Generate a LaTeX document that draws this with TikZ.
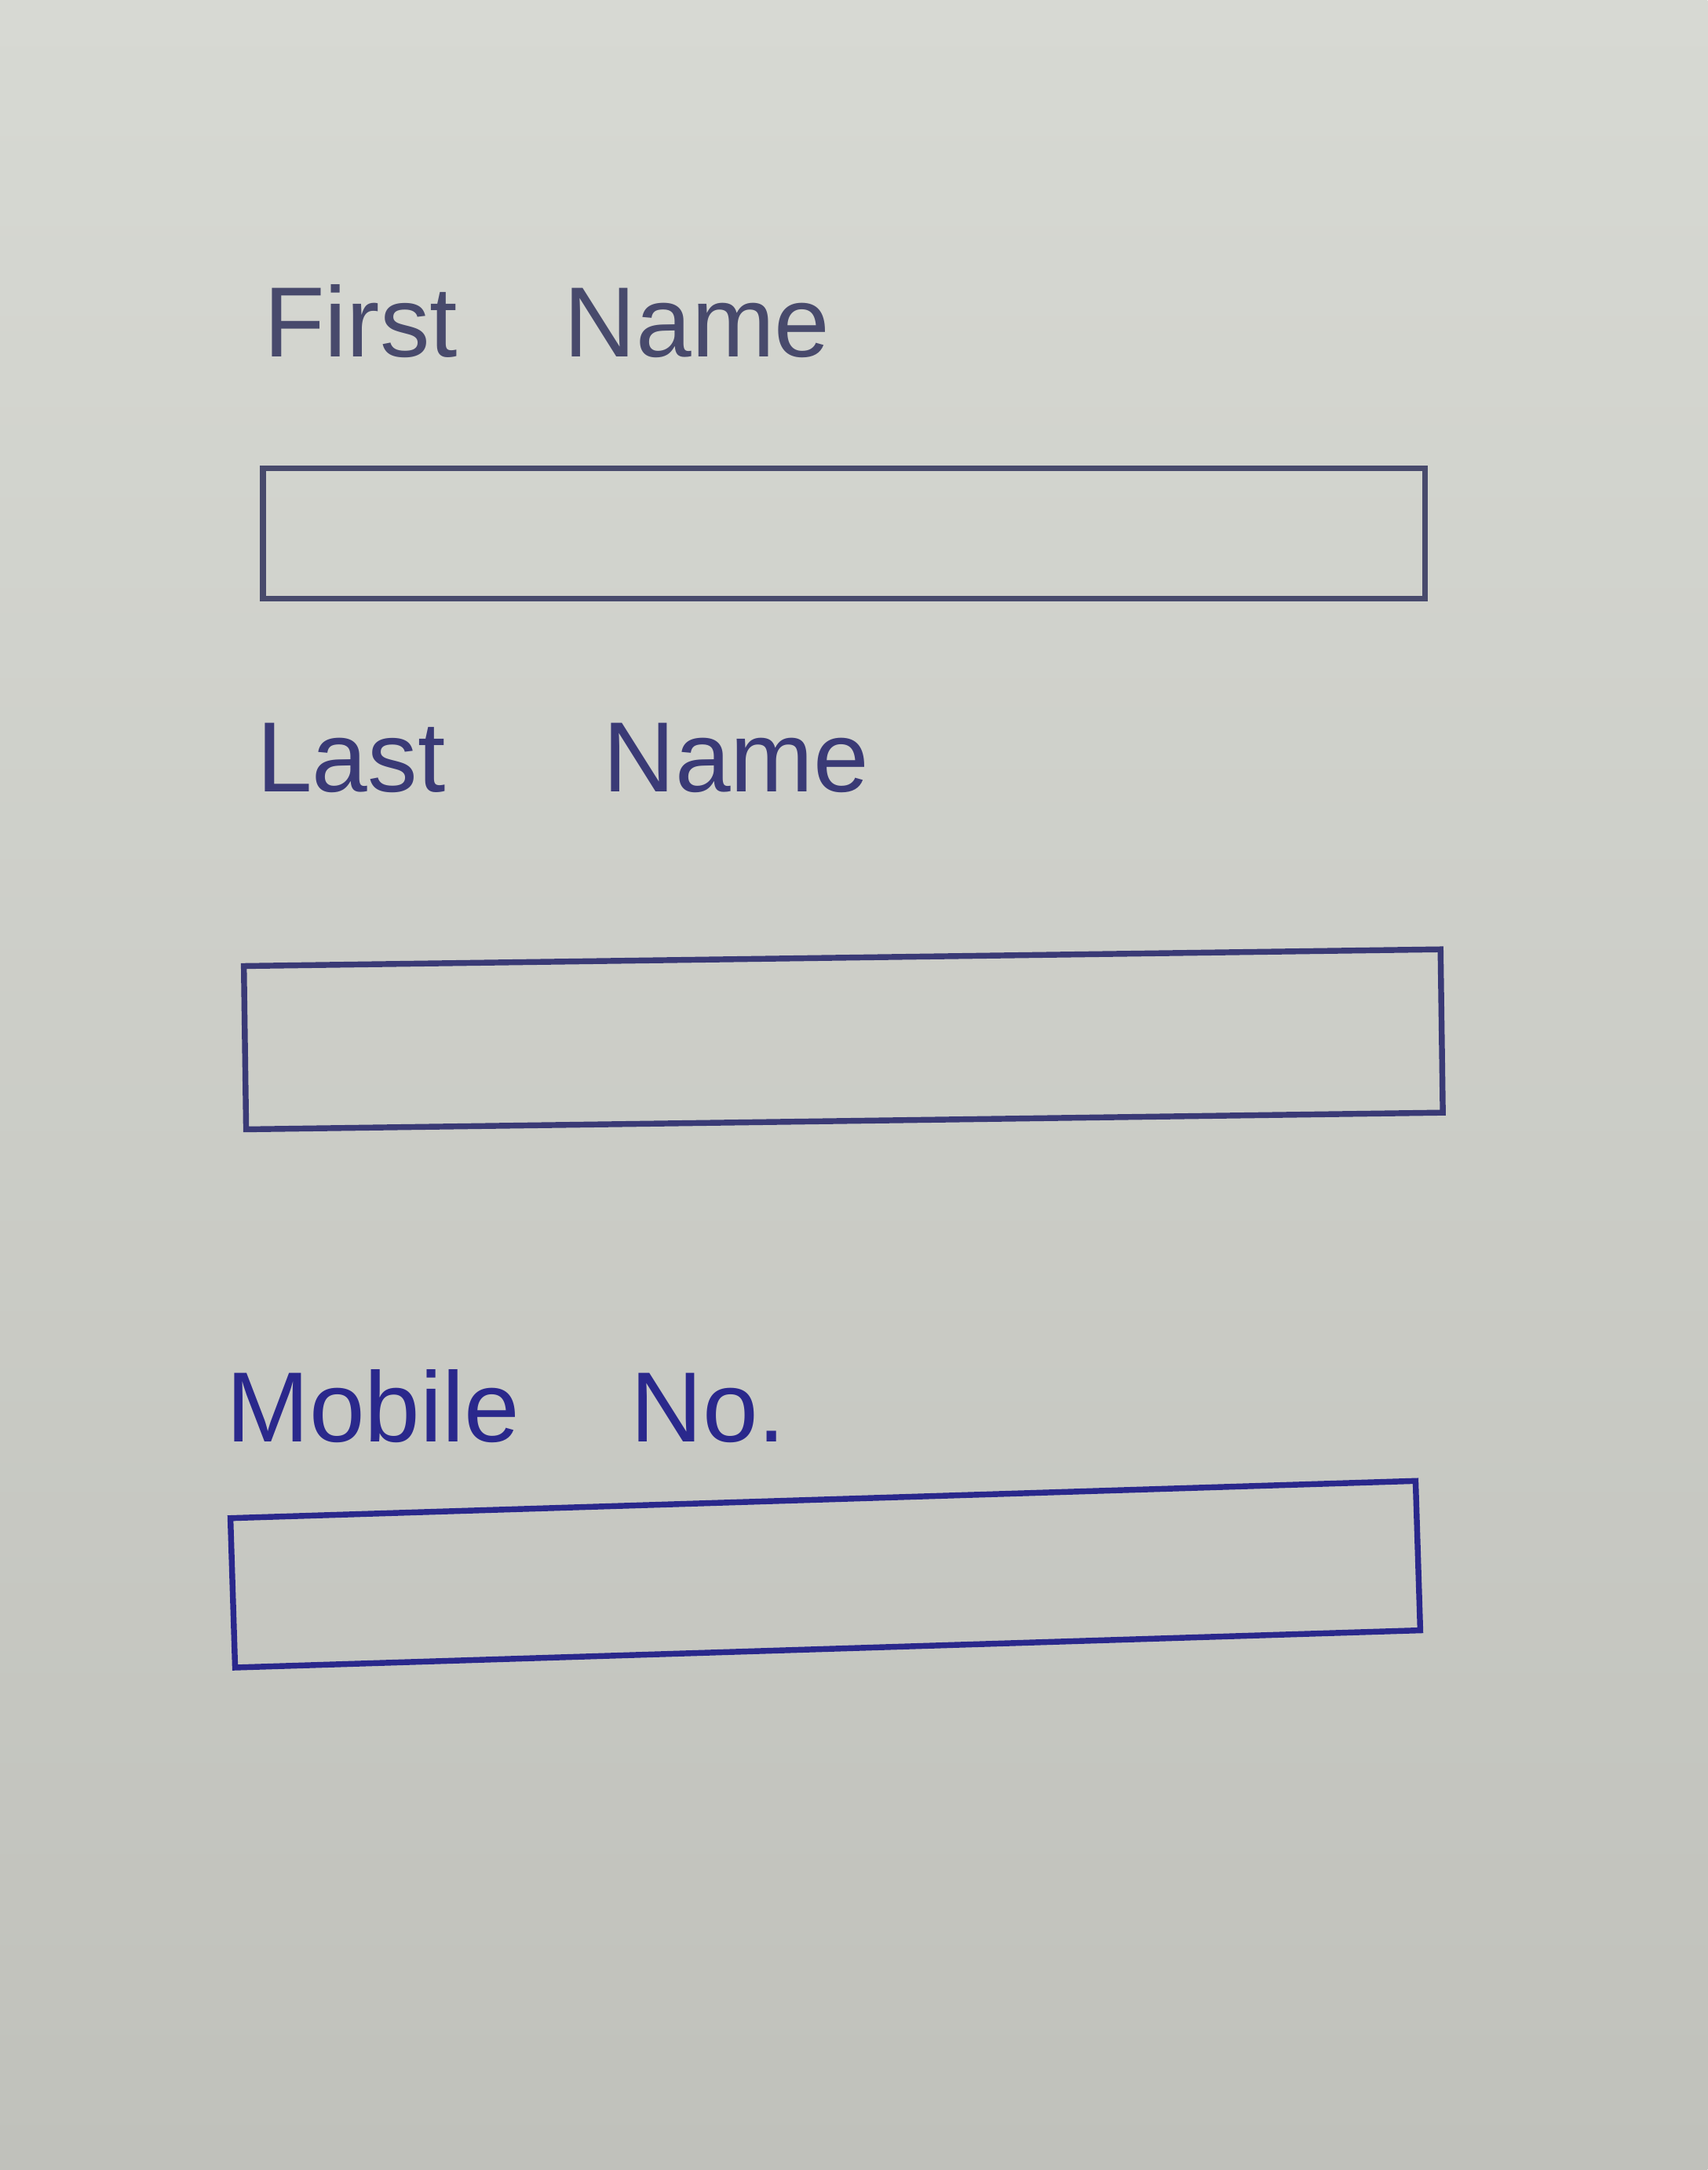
\documentclass[tikz,border=0pt]{standalone}
\usepackage{fontspec}
\setmainfont{Liberation Sans}
\usepackage{xcolor}
\usepackage{tikz}

\definecolor{papertop}{RGB}{215,217,211}
\definecolor{paperbottom}{RGB}{192,193,187}
\definecolor{inkgrey}{RGB}{72,74,108}
\definecolor{inkmid}{RGB}{58,58,118}
\definecolor{inkblue}{RGB}{42,40,140}
\newcommand{\formfont}{\fontsize{20.5}{24}\selectfont}

\begin{document}
\begin{tikzpicture}

    \shade[top color = papertop, bottom color = paperbottom] (0,0) rectangle (12.34,-15.68);
    \useasboundingbox (0,0) rectangle (12.34,-15.68);

    %first name
    \node[anchor = base west,
          inner sep = 0pt,
          text = inkgrey,
          font = \formfont
          ] (fnamelbl) at (1.90,-2.58) {First\hspace{0.77cm}Name};

    \node[rectangle,
          draw = inkgrey,
          line width = 1.2pt,
          inner sep = 0pt,
          minimum width = 8.4cm, 
          minimum height = 0.94cm
          ] (fname) at (6.10,-3.855) {};

    %last name
    \node[anchor = base west,
          inner sep = 0pt,
          text = inkmid,
          font = \formfont
          ] (lnamelbl) at (1.85,-5.72) {Last\hspace{1.14cm}Name};

    \node[rectangle,
          draw = inkmid,
          line width = 1.2pt,
          inner sep = 0pt,
          rotate = 0.8,
          minimum width = 8.65cm, 
          minimum height = 1.18cm
          ] (lname) at (6.095,-7.51) {};

    %mobile no
    \node[anchor = base west,
          inner sep = 0pt,
          text = inkblue,
          font = \formfont
          ] (mobilelbl) at (1.63,-10.42) {Mobile\hspace{0.80cm}No.};

    \node[rectangle,
          draw = inkblue,
          line width = 1.2pt,
          inner sep = 0pt,
          rotate = 1.8,
          minimum width = 8.57cm, 
          minimum height = 1.08cm
          ] (mobile) at (5.965,-11.375) {};

\end{tikzpicture}
\end{document}
